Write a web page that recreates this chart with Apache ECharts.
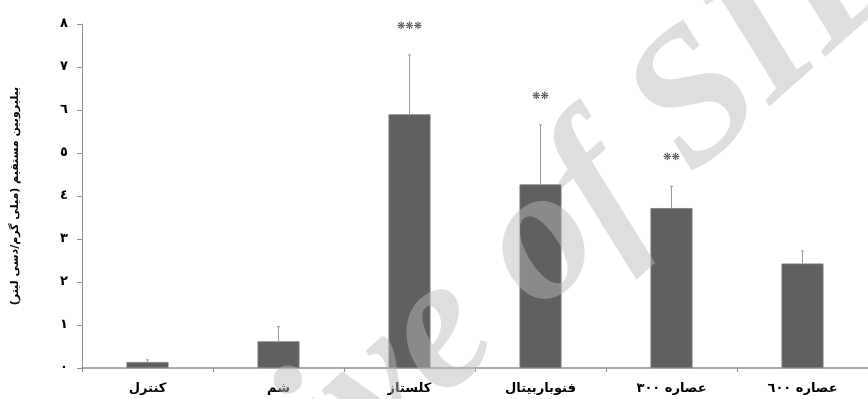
<!DOCTYPE html>
<html>
<head>
<meta charset="utf-8">
<script src="https://cdn.jsdelivr.net/npm/echarts@6/dist/echarts.min.js"></script>
<style>
  html, body { margin: 0; padding: 0; background: #fff; }
  #chart { width: 868px; height: 399px; }
</style>
</head>
<body>
<div id="chart"></div>
<script>
// Groups on the category axis
const groups = ['کنترل', 'شم', 'کلستاز', 'فنوباربیتال', 'عصاره ٣٠٠', 'عصاره ٦٠٠'];
// Mean direct bilirubin (mg/dL) per group
const means = [0.14, 0.62, 5.90, 4.27, 3.72, 2.43];
// Upper error (SEM) per group
const errors = [0.05, 0.34, 1.38, 1.38, 0.50, 0.29];
// Significance marks above each group
const sigMarks = ['', '', '***', '**', '**', ''];
// Value-axis tick labels (Arabic-Indic digits)
const yTickLabels = ['٠', '١', '٢', '٣', '٤', '٥', '٦', '٧', '٨'];

const chart = echarts.init(document.getElementById('chart'), null, { renderer: 'canvas' });

const axisGrey = '#8f8f8f';
const labelFont = 'DejaVu Sans';

chart.setOption({
  animation: false,
  backgroundColor: '#ffffff',
  grid: { left: 82, right: -12, top: 24, bottom: 31, containLabel: false },
  xAxis: {
    type: 'category',
    data: groups,
    axisLine: { lineStyle: { color: axisGrey, width: 1.5 } },
    axisTick: { show: true, length: 4, lineStyle: { color: axisGrey } },
    axisLabel: {
      color: '#000',
      fontFamily: labelFont,
      fontWeight: 'bold',
      fontSize: 13,
      margin: 14,
      interval: 0
    }
  },
  yAxis: {
    type: 'value',
    min: 0,
    max: 8,
    interval: 1,
    name: 'بیلیروبین مستقیم (میلی گرم/دسی لیتر)',
    nameLocation: 'middle',
    nameRotate: 90,
    nameGap: 61,
    nameTextStyle: {
      color: '#000',
      fontFamily: labelFont,
      fontWeight: 'bold',
      fontSize: 11
    },
    splitLine: { show: false },
    axisLine: { show: true, lineStyle: { color: axisGrey, width: 1 } },
    axisTick: { show: true, length: 5, lineStyle: { color: axisGrey } },
    axisLabel: {
      color: '#000',
      fontFamily: labelFont,
      fontWeight: 'bold',
      fontSize: 13,
      margin: 14,
      formatter: (v) => yTickLabels[Math.round(v)] ?? ''
    }
  },
  series: [
    {
      type: 'bar',
      data: means,
      barWidth: 42,
      itemStyle: { color: '#606060', borderColor: '#7c7c7c', borderWidth: 0.8 },
      z: 2
    },
    {
      type: 'custom',
      data: means.map((m, i) => [i, m, errors[i]]),
      encode: { x: 0, y: 1 },
      z: 3,
      renderItem: (params, api) => {
        const i = api.value(0);
        const m = api.value(1);
        const e = api.value(2);
        const base = api.coord([i, m]);
        const top = api.coord([i, m + e]);
        const children = [
          {
            type: 'line',
            shape: { x1: base[0], y1: base[1], x2: top[0], y2: top[1] },
            style: { stroke: '#9a9a9a', lineWidth: 1 }
          },
          {
            type: 'line',
            shape: { x1: top[0] - 1.5, y1: top[1], x2: top[0] + 1.5, y2: top[1] },
            style: { stroke: '#9a9a9a', lineWidth: 1 }
          }
        ];
        const mark = sigMarks[i];
        if (mark) {
          children.push({
            type: 'text',
            x: top[0],
            y: top[1] - 29,
            style: {
              text: mark.replace(/\*/g, '❋'),
              fill: '#454545',
              font: 'bold 10px "DejaVu Sans"',
              align: 'center',
              verticalAlign: 'middle'
            }
          });
        }
        return { type: 'group', children };
      }
    }
  ],
  graphic: [
    {
      type: 'text',
      x: 455,
      y: 322,
      rotation: 0.73,
      z: 100,
      silent: true,
      style: {
        text: 'Archive of SID',
        font: 'italic bold 190px "Liberation Serif"',
        fill: 'rgba(185,185,185,0.47)',
        align: 'center',
        verticalAlign: 'middle'
      }
    }
  ]
});
</script>
</body>
</html>
